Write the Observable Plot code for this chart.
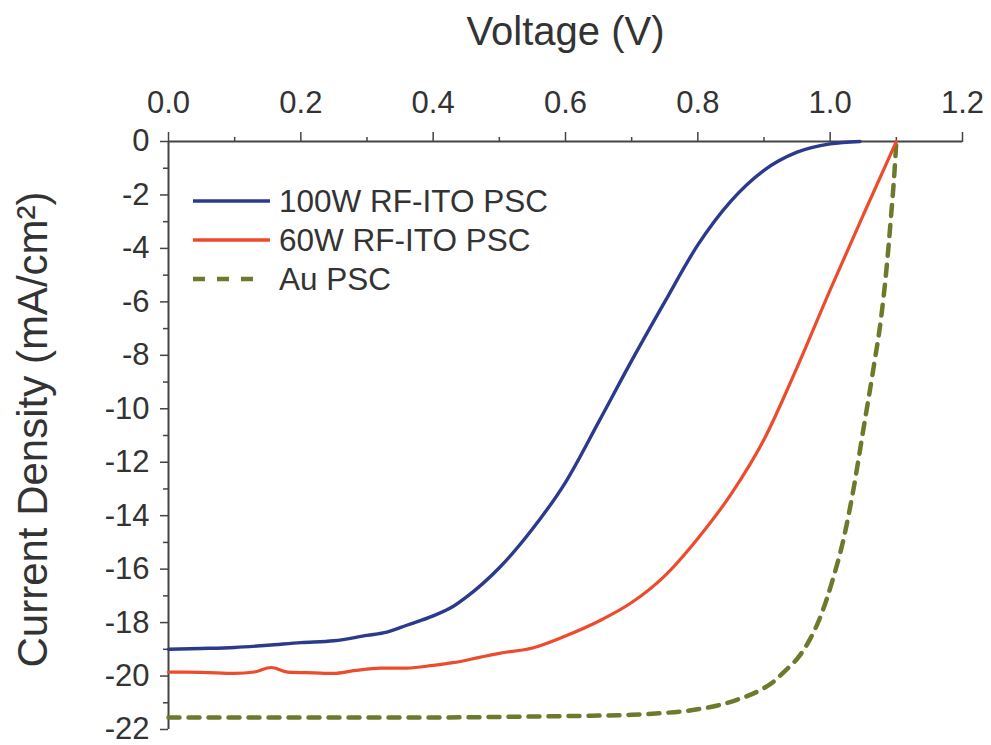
<!DOCTYPE html>
<html><head><meta charset="utf-8">
<script src="https://cdn.jsdelivr.net/npm/d3@7"></script>
<script src="https://cdn.jsdelivr.net/npm/@observablehq/plot@0.6"></script>
<style>
body{margin:0;background:#fff;}
#wrap{position:relative;width:991px;height:745px;}
#legend{position:absolute;left:0;top:0;}
</style></head><body><div id="wrap"></div>
<script>
// ---- data ----
const seriesNames = ["100W RF-ITO PSC", "60W RF-ITO PSC", "Au PSC"];
const seriesColors = ["#2c3a8e", "#ec4b2c", "#6c7a2c"];

const voltage100W = [0.00,0.05,0.10,0.15,0.20,0.25,0.30,0.33,0.36,0.40,0.43,0.45,0.50,0.55,0.60,0.65,0.70,0.75,0.80,0.85,0.90,0.95,1.00,1.045];
const current100W = [-19.00,-18.97,-18.93,-18.85,-18.75,-18.68,-18.48,-18.36,-18.10,-17.75,-17.40,-17.05,-15.95,-14.50,-12.75,-10.50,-8.20,-6.00,-3.87,-2.23,-1.08,-0.40,-0.09,0.00];

const voltage60W = [0.00,0.05,0.10,0.13,0.155,0.18,0.22,0.25,0.28,0.32,0.36,0.40,0.43,0.47,0.50,0.55,0.60,0.65,0.70,0.75,0.80,0.85,0.90,0.95,1.00,1.05,1.10];
const current60W = [-19.85,-19.86,-19.90,-19.85,-19.68,-19.85,-19.88,-19.90,-19.80,-19.70,-19.70,-19.60,-19.50,-19.30,-19.15,-18.95,-18.50,-17.95,-17.25,-16.25,-14.85,-13.20,-11.15,-8.45,-5.55,-2.75,0.00];

const voltageAu = [0.00,0.10,0.20,0.30,0.40,0.50,0.60,0.65,0.70,0.75,0.79,0.83,0.86,0.90,0.915,0.93,0.955,0.97,0.985,1.005,1.02,1.036,1.05,1.066,1.077,1.085,1.092,1.097,1.10];
const currentAu = [-21.55,-21.55,-21.55,-21.55,-21.55,-21.53,-21.50,-21.48,-21.45,-21.38,-21.28,-21.10,-20.88,-20.45,-20.20,-19.85,-19.20,-18.60,-17.80,-16.30,-14.90,-12.90,-10.80,-8.40,-6.60,-4.80,-2.80,-1.20,0.00];

const xTicks = [0.0,0.2,0.4,0.6,0.8,1.0,1.2];
const xMinorTicks = [0.1,0.3,0.5,0.7,0.9,1.1];
const yTicks = [0,-2,-4,-6,-8,-10,-12,-14,-16,-18,-20,-22];
const yMinorTicks = [-1,-3,-5,-7,-9,-11,-13,-15,-17,-19,-21];
const xTitle = "Voltage (V)";
const yTitle = "Current Density (mA/cm²)";

// ---- build tables ----
const toRows = (vs, js) => vs.map((v, i) => ({V: v, J: js[i]}));
const rows100 = toRows(voltage100W, current100W);
const rows60 = toRows(voltage60W, current60W);
const rowsAu = toRows(voltageAu, currentAu);

const font = "'Liberation Sans', Arial, Helvetica, sans-serif";
const ink = "#333";
const axisInk = "#444";

const chart = Plot.plot({
  width: 991, height: 745,
  marginLeft: 168, marginRight: 29, marginTop: 141, marginBottom: 16,
  x: {domain: [0, 1.2]},
  y: {domain: [-22, 0]},
  style: {fontFamily: font, color: ink, background: "#fff", overflow: "visible"},
  marks: [
    Plot.axisX({anchor: "top", ticks: xTicks, tickSize: 10, tickPadding: 19, tickFormat: d => d.toFixed(1), fontSize: 31, label: null, stroke: axisInk, strokeWidth: 1.5, fill: ink}),
    Plot.axisX({anchor: "top", ticks: xMinorTicks, tickSize: 5, tickFormat: () => "", label: null, stroke: axisInk, strokeWidth: 1.5}),
    Plot.axisY({anchor: "left", ticks: yTicks, tickSize: 8, tickPadding: 11, tickFormat: d => d === 0 ? "0" : "-" + Math.abs(d), fontSize: 31, label: null, stroke: axisInk, strokeWidth: 1.5, fill: ink}),
    Plot.axisY({anchor: "left", ticks: yMinorTicks, tickSize: 5, tickFormat: () => "", label: null, stroke: axisInk, strokeWidth: 1.5}),
    Plot.ruleY([0], {stroke: axisInk, strokeWidth: 2}),
    Plot.ruleX([0], {stroke: axisInk, strokeWidth: 2}),
    Plot.line(rowsAu, {x: "V", y: "J", stroke: seriesColors[2], strokeWidth: 4.5, strokeDasharray: "11,9", curve: "monotone-x"}),
    Plot.line(rows60, {x: "V", y: "J", stroke: seriesColors[1], strokeWidth: 3.2, curve: "monotone-x"}),
    Plot.line(rows100, {x: "V", y: "J", stroke: seriesColors[0], strokeWidth: 3.4, curve: "monotone-x"}),
    Plot.text([xTitle], {text: d => d, frameAnchor: "top", lineAnchor: "middle", textAnchor: "middle", dy: -109, fontSize: 40, fill: ink}),
    Plot.text([yTitle], {text: d => d, frameAnchor: "left", lineAnchor: "middle", textAnchor: "middle", rotate: -90, dx: -135, dy: -6, fontSize: 42, fill: ink})
  ]
});

const wrap = document.getElementById("wrap");
wrap.appendChild(chart);

// ---- legend overlay ----
const ns = "http://www.w3.org/2000/svg";
const leg = document.createElementNS(ns, "svg");
leg.setAttribute("id", "legend");
leg.setAttribute("width", 600);
leg.setAttribute("height", 330);
const rowY = [201, 240, 279];
seriesNames.forEach((name, i) => {
  const ln = document.createElementNS(ns, "line");
  ln.setAttribute("x1", 193); ln.setAttribute("x2", i === 2 ? 258 : 270);
  ln.setAttribute("y1", rowY[i]); ln.setAttribute("y2", rowY[i]);
  ln.setAttribute("stroke", seriesColors[i]);
  ln.setAttribute("stroke-width", i === 2 ? 4.5 : 3.4);
  if (i === 2) ln.setAttribute("stroke-dasharray", "12,12");
  leg.appendChild(ln);
  const t = document.createElementNS(ns, "text");
  t.setAttribute("x", 279); t.setAttribute("y", rowY[i]);
  t.setAttribute("dy", "0.35em");
  t.setAttribute("font-family", font);
  t.setAttribute("font-size", 31.5);
  t.setAttribute("fill", ink);
  t.textContent = name;
  leg.appendChild(t);
});
wrap.appendChild(leg);
</script></body></html>
